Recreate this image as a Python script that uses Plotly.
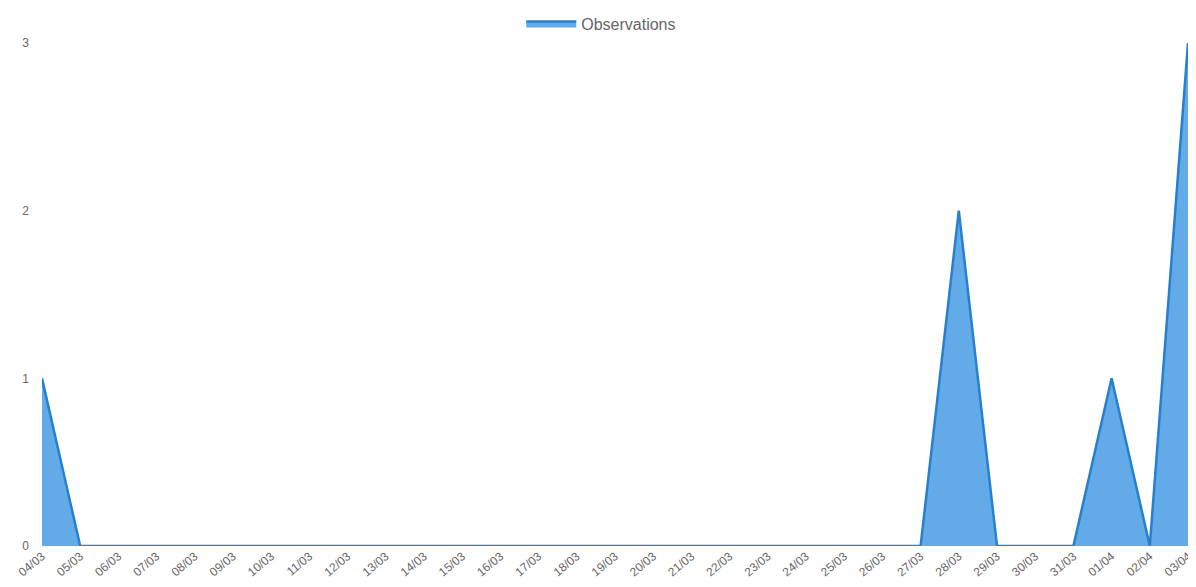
import plotly.graph_objects as go

dates = ["04/03", "05/03", "06/03", "07/03", "08/03", "09/03", "10/03", "11/03",
         "12/03", "13/03", "14/03", "15/03", "16/03", "17/03", "18/03", "19/03",
         "20/03", "21/03", "22/03", "23/03", "24/03", "25/03", "26/03", "27/03",
         "28/03", "29/03", "30/03", "31/03", "01/04", "02/04", "03/04"]
observations = [1, 0, 0, 0, 0, 0, 0, 0, 0, 0, 0, 0, 0, 0, 0, 0,
                0, 0, 0, 0, 0, 0, 0, 0, 2, 0, 0, 0, 1, 0, 3]
y_ticks = [0, 1, 2, 3]

fig = go.Figure()
fig.add_trace(go.Scatter(
    x=dates, y=observations, name="Observations", mode="lines",
    fill="tozeroy", fillcolor="rgba(70,155,228,0.85)",
    line=dict(color="rgb(38,128,205)", width=2.5),
))
fig.update_layout(
    width=1180, height=579,
    paper_bgcolor="white", plot_bgcolor="white",
    margin=dict(l=34, r=0, t=35, b=41, autoexpand=False),
    showlegend=True,
    legend=dict(orientation="h", x=0.488, xanchor="center", y=0.973, yref="container",
                yanchor="middle",
                font=dict(family="Liberation Sans, Arial", size=16, color="#666"),
                itemwidth=50),
    xaxis=dict(type="category", range=[0, 30], showgrid=False, zeroline=False,
               tickangle=-40, tickfont=dict(family="Liberation Sans, Arial", size=12, color="#666"),
               showline=False, ticks="", automargin=False),
    yaxis=dict(range=[0, 3], tickvals=y_ticks, showgrid=False, zeroline=False,
               tickfont=dict(family="Liberation Sans, Arial", size=12, color="#666"),
               ticklabelstandoff=12, showline=False, automargin=False),
)
fig.write_html("out.html")
